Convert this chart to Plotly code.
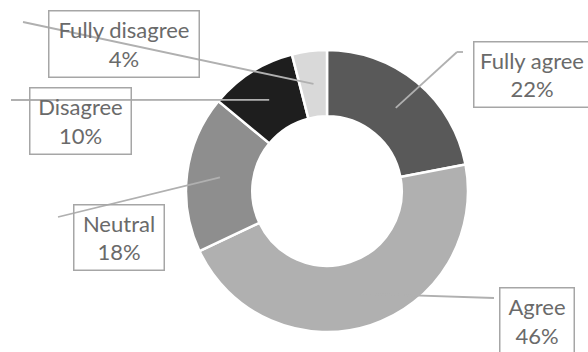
import math
import plotly.graph_objects as go

# ---- data ----
categories = ["Fully agree", "Agree", "Neutral", "Disagree", "Fully disagree"]
values = [22, 46, 18, 10, 4]
colors = ["#595959", "#b0b0b0", "#8e8e8e", "#1e1e1e", "#d9d9d9"]

W, H = 588, 352
CX, CY, R_OUT = 327, 191, 141
HOLE = 0.53

# label box layout (pixel centers / sizes) and leader line outer points
box_center = {"Fully agree": (532, 74.5), "Agree": (537, 321), "Neutral": (119, 237.5),
              "Disagree": (80.5, 121), "Fully disagree": (124, 44)}
box_size = {"Fully agree": (118, 67), "Agree": (76, 68), "Neutral": (92, 67),
            "Disagree": (103, 68), "Fully disagree": (152, 68)}
leader_path = {"Fully agree": [(457, 52), (463, 52)], "Agree": [(494, 298)],
               "Neutral": [(58, 217)], "Disagree": [(11, 100)],
               "Fully disagree": [(23, 22)]}

def px(x):
    return x / W

def py(y):
    return 1 - y / H

fig = go.Figure(go.Pie(
    labels=categories, values=values, sort=False, direction="clockwise",
    rotation=0, hole=HOLE, textinfo="none", hoverinfo="label+percent",
    marker=dict(colors=colors, line=dict(color="white", width=2.5)),
    domain=dict(x=[px(CX - R_OUT), px(CX + R_OUT)], y=[py(CY + R_OUT), py(CY - R_OUT)]),
    showlegend=False,
))

total = sum(values)
r_mid = (R_OUT + R_OUT * HOLE) / 2
shapes = []
annotations = []
cum = 0
for cat, v in zip(categories, values):
    theta = 2 * math.pi * (cum + v / 2) / total
    cum += v
    sx = CX + r_mid * math.sin(theta)
    sy = CY - r_mid * math.cos(theta)
    pts = [(sx, sy)] + leader_path[cat]
    for (x0, y0), (x1, y1) in zip(pts[:-1], pts[1:]):
        shapes.append(dict(type="line", xref="paper", yref="paper",
                           x0=px(x0), y0=py(y0), x1=px(x1), y1=py(y1),
                           line=dict(color="#b0b0b0", width=1.8)))
    bx, by = box_center[cat]
    bw, bh = box_size[cat]
    pct = round(100 * v / total)
    annotations.append(dict(
        xref="paper", yref="paper", x=px(bx), y=py(by), xanchor="center", yanchor="middle",
        text=f"{cat}<br>{pct}%", showarrow=False, align="center", valign="middle",
        width=bw - 3, height=bh - 3, borderpad=0, borderwidth=1.5, bordercolor="#a6a6a6",
        font=dict(family="Lato", size=22, color="#6a6a6a"),
    ))

fig.update_layout(
    width=W, height=H, margin=dict(l=0, r=0, t=0, b=0),
    paper_bgcolor="white", plot_bgcolor="white",
    shapes=shapes, annotations=annotations,
)
fig.write_html("out.html", config={"displayModeBar": False},
               post_script="document.body.style.margin='0';document.body.style.overflow='hidden';")
